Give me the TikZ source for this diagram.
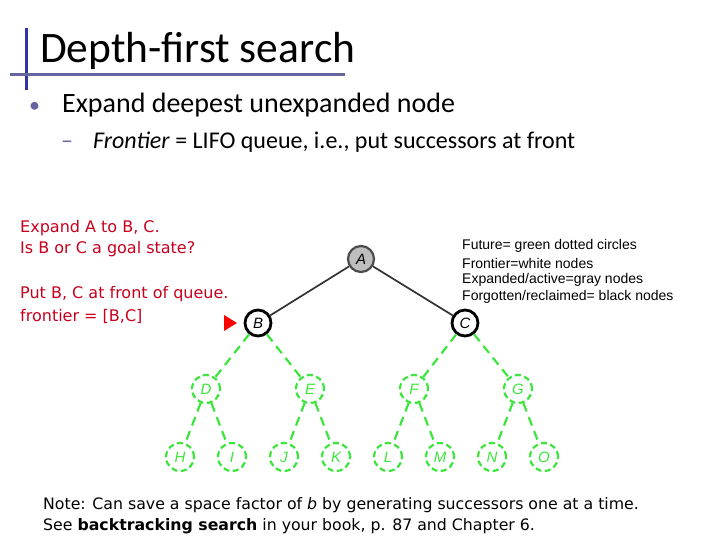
\documentclass[tikz,border=0pt]{standalone}
\usepackage{fontspec}
\setmainfont{Carlito}
\newfontfamily\tah{DejaVu Sans}
\newfontfamily\leg{Liberation Sans}
\usetikzlibrary{arrows.meta}
\definecolor{tblue}{RGB}{50,50,170}
\definecolor{tline}{RGB}{100,100,160}
\definecolor{dred}{RGB}{200,0,30}
\definecolor{fgreen}{RGB}{60,230,60}
\definecolor{agray}{RGB}{190,190,190}
\begin{document}
\begin{tikzpicture}[x=1pt,y=-1pt,
  gnode/.style={circle,draw=fgreen,line width=2.2pt,dash pattern=on 6pt off 3.5pt,minimum size=28pt,inner sep=0pt,text=fgreen,font=\leg\fontsize{15}{15}\selectfont\itshape},
  wnode/.style={circle,draw=black,line width=2.8pt,fill=white,minimum size=26pt,inner sep=0pt,font=\leg\fontsize{15}{15}\selectfont\itshape},
  anode/.style={wnode,fill=agray,draw=black!70,line width=2.2pt},
  gedge/.style={draw=fgreen,line width=2.2pt,dash pattern=on 9pt off 6pt},
  bedge/.style={draw=black!80,line width=1.7pt},
  redtxt/.style={anchor=west,text=dred,font=\tah\fontsize{16}{16}\selectfont,inner sep=0pt},
  legtxt/.style={anchor=west,font=\leg\fontsize{14}{14}\selectfont,inner sep=0pt},
  notetxt/.style={anchor=west,font=\tah\fontsize{15.75}{15.75}\selectfont,inner sep=0pt}]
\useasboundingbox[fill=white] (0,0) rectangle (720,540);
% title
\draw[tblue,line width=3pt] (26,28) -- (26,90);
\draw[tline,line width=3pt] (10,75) -- (345,75);
\node[anchor=base west,inner sep=0pt,font=\fontsize{43.5}{43.5}\selectfont] (title) at (40,63) {Depth-first search};
% bullets
\node[anchor=base west,inner sep=0pt,text=tline,font=\fontsize{22}{22}\selectfont] (b1) at (29,113) {•};
\node[anchor=base west,inner sep=0pt,font=\fontsize{28}{28}\selectfont] (t1) at (62,113) {Expand deepest unexpanded node};
\node[anchor=base west,inner sep=0pt,text=tline,font=\fontsize{24}{24}\selectfont] (d1) at (61,149) {–};
\node[anchor=base west,inner sep=0pt,font=\fontsize{24}{24}\selectfont] (t2) at (93,149) {\textit{Frontier} = LIFO queue, i.e., put successors at front};
% red text
\node[redtxt] (r1) at (20,228) {Expand A to B, C.};
\node[redtxt] (r2) at (20,249) {Is B or C a goal state?};
\node[redtxt] (r3) at (20,294) {Put B, C at front of queue.};
\node[redtxt] (r4) at (20,316) {frontier = [B,C]};
% legend
\node[legtxt] (l1) at (462,246) {Future= green dotted circles};
\node[legtxt] (l2) at (462,263) {Frontier=white nodes};
\node[legtxt] (l3) at (462,280) {Expanded/active=gray nodes};
\node[legtxt] (l4) at (462,297) {Forgotten/reclaimed= black nodes};
% tree nodes
\node[anode] (A) at (361,259) {A};
\node[wnode] (B) at (258,323) {B};
\node[wnode] (C) at (465,323) {C};
\node[gnode] (D) at (206,389) {D};
\node[gnode] (E) at (310,389) {E};
\node[gnode] (F) at (414,389) {F};
\node[gnode] (G) at (518,389) {G};
\node[gnode] (H) at (180,457) {H};
\node[gnode] (I) at (232,457) {I};
\node[gnode] (J) at (284,457) {J};
\node[gnode] (K) at (336,457) {K};
\node[gnode] (L) at (388,457) {L};
\node[gnode] (M) at (440,457) {M};
\node[gnode] (N) at (492,457) {N};
\node[gnode] (O) at (544,457) {O};
% edges
\draw[bedge] (A) -- (B);
\draw[bedge] (A) -- (C);
\foreach \p/\c in {B/D,B/E,C/F,C/G,D/H,D/I,E/J,E/K,F/L,F/M,G/N,G/O}
  \draw[gedge] (\p) -- (\c);
% red marker
\coordinate (mk) at (237,323);
\fill[red] (mk) -- ++(-13,-8) -- ++(0,16) -- cycle;
% note
\node[notetxt] (n1) at (43,505) {Note: Can save a space factor of \textit{b} by generating successors one at a time.};
\node[notetxt] (n2) at (43,526) {See \textbf{backtracking search} in your book, p. 87 and Chapter 6.};
\end{tikzpicture}
\end{document}
